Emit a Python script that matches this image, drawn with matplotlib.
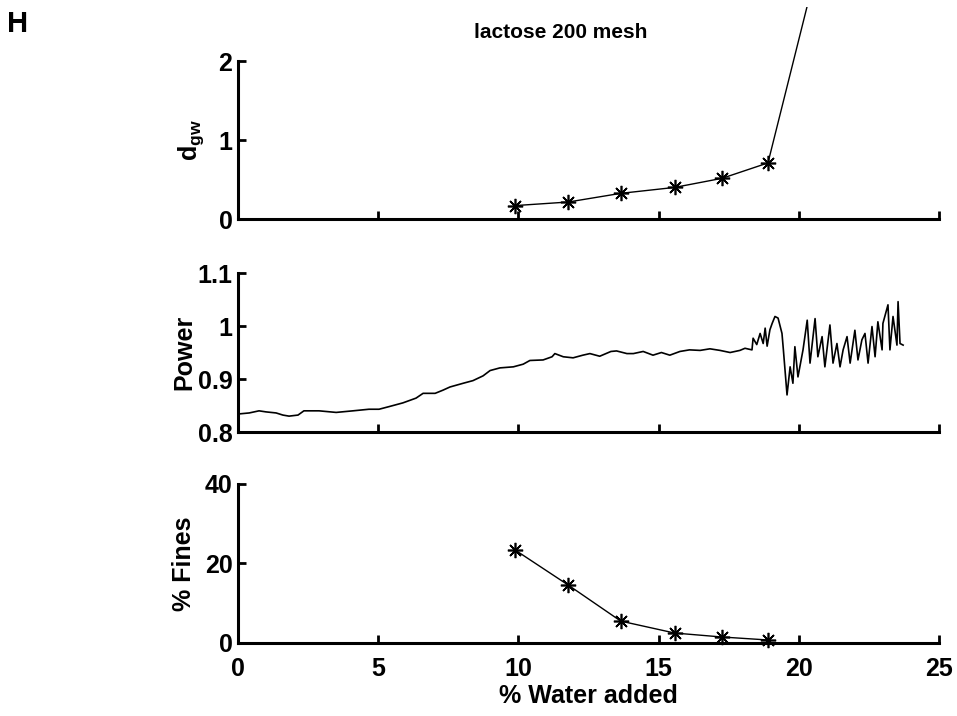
import matplotlib
matplotlib.use("Agg")
import matplotlib.pyplot as plt
from matplotlib.transforms import Bbox, TransformedBbox

plt.rcParams["font.family"] = ["Liberation Sans", "DejaVu Sans"]
plt.rcParams["font.weight"] = "bold"
plt.rcParams["axes.labelweight"] = "bold"
plt.rcParams["mathtext.fontset"] = "custom"
plt.rcParams["mathtext.rm"] = "Liberation Sans:bold"
plt.rcParams["mathtext.bf"] = "Liberation Sans:bold"
plt.rcParams["mathtext.it"] = "Liberation Sans:bold"

# ---- data ----
water_pct = [9.88, 11.77, 13.65, 15.57, 17.26, 18.90]
dgw_x = water_pct + [21.0]          # last sample runs off the top of the figure
dgw = [0.17, 0.215, 0.325, 0.40, 0.515, 0.71, 3.69]
fines = [23.4, 14.6, 5.5, 2.5, 1.5, 0.75]

power_x = [0.0, 0.4, 0.75, 1.0, 1.36, 1.6, 1.82, 2.14, 2.35, 2.89,
           3.5, 4.1, 4.67, 5.03, 5.39, 5.88, 6.35, 6.6, 7.03, 7.31,
           7.56, 8.03, 8.38, 8.74, 8.99, 9.34, 9.82, 10.17, 10.41, 10.88,
           11.2, 11.3, 11.6, 11.95, 12.3, 12.55, 12.9, 13.3, 13.5, 13.87,
           14.1, 14.45, 14.8, 15.1, 15.4, 15.76, 16.1, 16.48, 16.83, 17.19,
           17.55, 17.9, 18.08, 18.33, 18.37, 18.5, 18.62, 18.73, 18.8, 18.87,
           18.97, 19.05, 19.15, 19.26, 19.4, 19.45, 19.58, 19.69, 19.79, 19.86,
           19.97, 20.15, 20.3, 20.4, 20.58, 20.68, 20.83, 20.93, 21.11, 21.22,
           21.36, 21.47, 21.58, 21.72, 21.83, 22.0, 22.11, 22.25, 22.36, 22.47,
           22.61, 22.72, 22.82, 22.97, 23.0, 23.18, 23.25, 23.36, 23.5, 23.54,
           23.61, 23.72]
power = [0.834, 0.836, 0.840, 0.838, 0.836, 0.832, 0.830, 0.832, 0.840, 0.840,
         0.837, 0.840, 0.843, 0.843, 0.848, 0.855, 0.864, 0.873, 0.873, 0.879,
         0.885, 0.892, 0.897, 0.906, 0.916, 0.921, 0.923, 0.928, 0.935, 0.936,
         0.942, 0.948, 0.942, 0.940, 0.945, 0.948, 0.943, 0.952, 0.953, 0.948,
         0.948, 0.952, 0.945, 0.950, 0.945, 0.952, 0.955, 0.954, 0.957, 0.954,
         0.950, 0.954, 0.958, 0.955, 0.977, 0.965, 0.986, 0.967, 0.996, 0.962,
         0.993, 1.005, 1.018, 1.015, 0.986, 0.955, 0.870, 0.923, 0.892, 0.961,
         0.904, 0.955, 1.011, 0.930, 1.014, 0.942, 0.980, 0.923, 1.002, 0.930,
         0.967, 0.923, 0.955, 0.980, 0.930, 0.992, 0.936, 0.974, 0.986, 0.930,
         0.999, 0.942, 1.008, 0.955, 1.005, 1.040, 0.955, 1.018, 0.964, 1.046,
         0.967, 0.964]

x_ticks = [0, 5, 10, 15, 20, 25]
dgw_ticks = [0, 1, 2]
power_ticks = [0.8, 0.9, 1.0, 1.1]
power_tick_labels = ["0.8", "0.9", "1", "1.1"]
fines_ticks = [0, 20, 40]


def _style(ax, show_xlabels):
    ax.spines[["top", "right"]].set_visible(False)
    for side in ("left", "bottom"):
        ax.spines[side].set_linewidth(2.2)
    ax.tick_params(direction="in", length=5.5, width=2, labelsize=18)
    ax.tick_params(axis="y", pad=4)
    ax.tick_params(axis="x", pad=10)
    ax.set_xlim(0, 25)
    ax.set_xticks(x_ticks)
    if not show_xlabels:
        ax.set_xticklabels([])


fig = plt.figure(figsize=(9.57, 7.16), dpi=100)
ax1 = fig.add_axes([0.2487, 0.6941, 0.7325, 0.2207])
ax2 = fig.add_axes([0.2487, 0.3966, 0.7325, 0.2221])
ax3 = fig.add_axes([0.2487, 0.1020, 0.7325, 0.2221])

# top: d_gw
line, = ax1.plot(dgw_x, dgw, color="black", linewidth=1.0,
                 marker=(8, 2, 0), markersize=11, markeredgewidth=1.2)
# curve leaves the axes and gets cut by the figure edge
line.set_clip_box(TransformedBbox(Bbox.from_extents(0, 0, 1, 1 - 7 / 716),
                                  fig.transFigure))
_style(ax1, False)
ax1.set_ylim(0, 2)
ax1.set_yticks(dgw_ticks)
ax1.set_ylabel(r"$\mathbf{d_{gw}}$", fontsize=18)
ax1.yaxis.set_label_coords(-0.046, 0.5)

# middle: power
ax2.plot(power_x, power, color="black", linewidth=1.2)
_style(ax2, False)
ax2.set_ylim(0.8, 1.1)
ax2.set_yticks(power_ticks)
ax2.set_yticklabels(power_tick_labels)
ax2.set_ylabel("Power", fontsize=18)
ax2.yaxis.set_label_coords(-0.06, 0.5)

# bottom: fines
ax3.plot(water_pct, fines, color="black", linewidth=1.0,
         marker=(8, 2, 0), markersize=11, markeredgewidth=1.2, clip_on=False)
_style(ax3, True)
ax3.set_ylim(0, 40)
ax3.set_yticks(fines_ticks)
ax3.set_ylabel("% Fines", fontsize=18)
ax3.yaxis.set_label_coords(-0.06, 0.5)
ax3.set_xlabel("% Water added", fontsize=18, labelpad=2)

fig.text(561 / 957, 1 - 32 / 716, "lactose 200 mesh", ha="center", va="center",
         fontsize=15, fontweight="bold")
fig.text(18 / 957, 1 - 24 / 716, "H", ha="center", va="center",
         fontsize=21, fontweight="bold")

fig.savefig("out.png", dpi=100)
